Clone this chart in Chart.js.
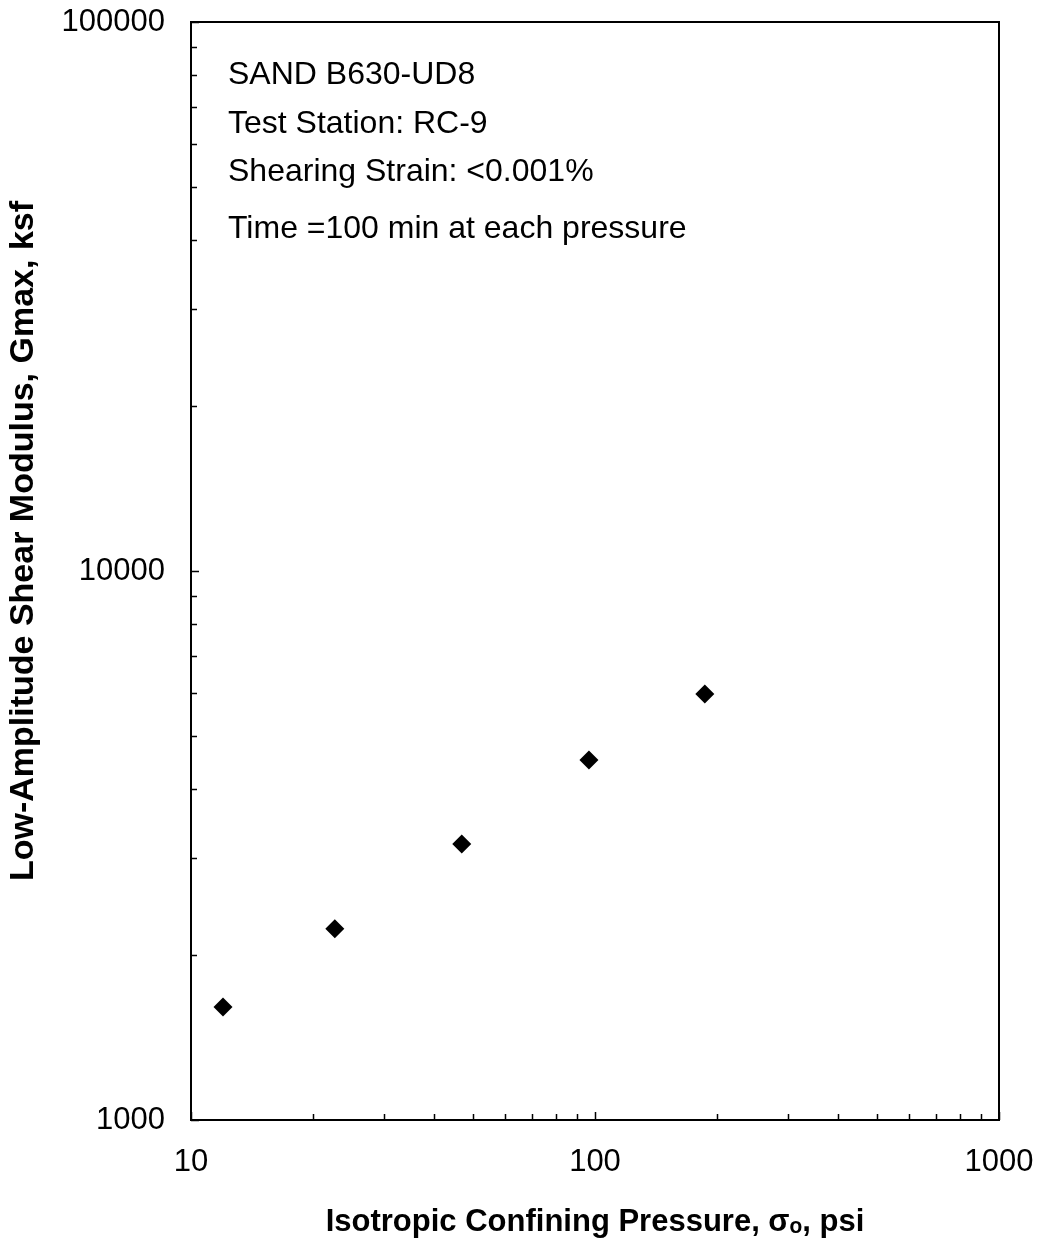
<!DOCTYPE html>
<html><head><meta charset="utf-8">
<script src="https://cdn.jsdelivr.net/npm/chart.js@4/dist/chart.umd.min.js"></script>
<style>html,body{margin:0;padding:0;background:#fff}#wrap{width:1038px;height:1241px;position:relative}</style>
</head><body><div id="wrap"><canvas id="c" width="1038" height="1241"></canvas></div>
<script>
const pressures = [12, 22.7, 46.8, 96.6, 187];
const gmaxValues = [1606, 2230, 3183, 4526, 5970];
const xTickValues = [10, 100, 1000];
const yTickValues = [1000, 10000, 100000];
const annotationLines = ["SAND B630-UD8", "Test Station: RC-9", "Shearing Strain: <0.001%", "Time =100 min at each pressure"];
const xTitle = "Isotropic Confining Pressure, σₒ, psi";
const yTitle = "Low-Amplitude Shear Modulus, Gmax, ksf";

const FONT = '"Liberation Sans", Arial, sans-serif';

const framePlugin = {
  id: 'frame',
  afterDatasetsDraw(chart) {
    const ctx = chart.ctx;
    const a = chart.chartArea;
    const xs = chart.scales.x, ys = chart.scales.y;
    ctx.save();
    ctx.strokeStyle = '#000';
    ctx.lineWidth = 1.5;
    ctx.beginPath();
    for (let d = 10; d < 1000; d *= 10) {
      for (let m = 1; m <= 10; m++) {
        const px = Math.round(xs.getPixelForValue(m * d)) + 0.5;
        const len = (m === 1 || m === 10) ? 8 : 6;
        ctx.moveTo(px, a.bottom);
        ctx.lineTo(px, a.bottom - len);
      }
    }
    for (let d = 1000; d < 100000; d *= 10) {
      for (let m = 1; m <= 10; m++) {
        const py = Math.round(ys.getPixelForValue(m * d)) + 0.5;
        const len = (m === 1 || m === 10) ? 8 : 6;
        ctx.moveTo(a.left, py);
        ctx.lineTo(a.left + len, py);
      }
    }
    ctx.stroke();
    ctx.lineWidth = 2;
    ctx.strokeRect(a.left, a.top, a.right - a.left, a.bottom - a.top);
    ctx.restore();
  },
  afterDraw(chart) {
    const ctx = chart.ctx;
    ctx.save();
    ctx.fillStyle = '#000';
    ctx.font = '32px ' + FONT;
    ctx.textAlign = 'left';
    ctx.textBaseline = 'middle';
    const ys = [75, 124, 172, 229];
    annotationLines.forEach((t, i) => ctx.fillText(t, 228, ys[i]));
    ctx.translate(24, 541);
    ctx.rotate(-Math.PI / 2);
    ctx.textAlign = 'center';
    ctx.font = 'bold 34px ' + FONT;
    ctx.fillText(yTitle, 0, 0);
    ctx.restore();
  }
};

new Chart(document.getElementById('c'), {
  type: 'scatter',
  data: {
    datasets: [{
      data: pressures.map((p, i) => ({x: p, y: gmaxValues[i]})),
      pointStyle: 'rectRot',
      pointRadius: 9.5,
      pointHoverRadius: 9.5,
      backgroundColor: '#000',
      borderColor: '#000',
      borderWidth: 0,
      showLine: false
    }]
  },
  options: {
    responsive: false,
    animation: false,
    devicePixelRatio: 1,
    layout: {padding: {top: 22, right: 39, left: 0, bottom: 0}},
    plugins: {legend: {display: false}, tooltip: {enabled: false}},
    scales: {
      x: {
        type: 'logarithmic', position: 'bottom', min: 10, max: 1000,
        afterBuildTicks: s => { s.ticks = xTickValues.map(v => ({value: v, major: true})); },
        afterFit: s => { s.height = 121; s.paddingLeft = 0; s.paddingRight = 0; },
        ticks: {
          callback: v => String(v), color: '#000', padding: 24,
          font: {family: FONT, size: 31}, maxRotation: 0, autoSkip: false
        },
        grid: {display: false, drawTicks: false},
        border: {display: false},
        title: {display: true, text: xTitle, color: '#000',
          font: {family: FONT, size: 31, weight: 'bold'}, padding: {top: 0, bottom: 0}}
      },
      y: {
        type: 'logarithmic', position: 'left', min: 1000, max: 100000,
        afterBuildTicks: s => { s.ticks = yTickValues.map(v => ({value: v, major: true})); },
        afterFit: s => { s.width = 191; s.paddingTop = 0; s.paddingBottom = 0; },
        ticks: {
          callback: v => String(v), color: '#000', padding: 26,
          font: {family: FONT, size: 31}, autoSkip: false
        },
        grid: {display: false, drawTicks: false},
        border: {display: false},
        title: {display: false, text: yTitle}
      }
    }
  },
  plugins: [framePlugin]
});
</script></body></html>
